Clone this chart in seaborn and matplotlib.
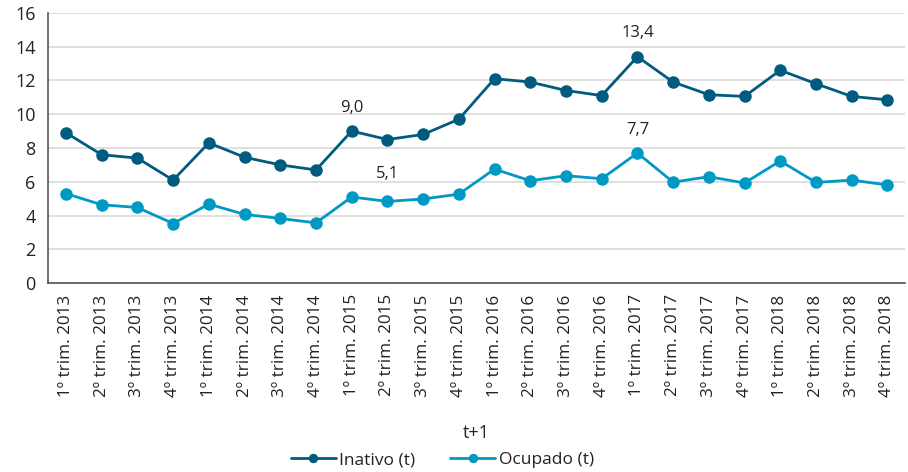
import pandas as pd
import numpy as np
import matplotlib
matplotlib.use("Agg")
import matplotlib.pyplot as plt
import seaborn as sns

trimestres = ["1º", "2º", "3º", "4º"]
anos = ["2013", "2014", "2015", "2016", "2017", "2018"]
categorias = [f"{t} trim. {a}" for a in anos for t in trimestres]

inativo = [8.9, 7.6, 7.4, 6.1, 8.3, 7.45, 7.0, 6.7, 9.0, 8.5, 8.8, 9.7,
           12.1, 11.9, 11.4, 11.1, 13.4, 11.9, 11.15, 11.05, 12.6, 11.8, 11.05, 10.85]
ocupado = [5.3, 4.64, 4.48, 3.53, 4.68, 4.07, 3.83, 3.57, 5.1, 4.84, 4.98, 5.27,
           6.75, 6.06, 6.36, 6.18, 7.7, 5.98, 6.3, 5.93, 7.23, 5.96, 6.1, 5.81]

series = ["Inativo (t)", "Ocupado (t)"]
cores = ["#005b7f", "#0099c4"]

# rótulos de valor: (série, índice, texto, deslocamento x em categorias)
rotulos = [(0, 8, "9,0", 0.0), (1, 8, "5,1", 1.0), (0, 16, "13,4", 0.0), (1, 16, "7,7", 0.0)]

df = pd.DataFrame({
    "pos": list(range(len(categorias))) * 2,
    "valor": inativo + ocupado,
    "serie": [series[0]] * len(inativo) + [series[1]] * len(ocupado),
})

sns.set_style("white")
plt.rcParams["font.family"] = ["Open Sans", "DejaVu Sans"]
plt.rcParams["text.color"] = "#222222"

fig = plt.figure(figsize=(9.08, 4.72), dpi=100)
ax = fig.add_axes([0.053, 0.4, 0.944, 0.573])

sns.lineplot(data=df, x="pos", y="valor", hue="serie", palette=cores,
             marker="o", markersize=9, markeredgewidth=0, linewidth=2,
             ax=ax, legend=True)

ax.set_ylim(0, 16)
ax.set_yticks(np.arange(0, 17, 2))
ax.set_xlim(-0.5, len(categorias) - 0.5)
ax.set_xticks(range(len(categorias)))
ax.set_xticklabels(categorias, rotation=90, fontsize=12.3)
ax.set_xticks(np.arange(-0.5, len(categorias), 1), minor=True)
ax.tick_params(axis="x", which="major", length=0, pad=8, labelcolor="#222222")
ax.tick_params(axis="x", which="minor", length=12, color="#555555", width=1)
ax.tick_params(axis="y", length=5, color="#555555", labelsize=13, pad=4,
               labelcolor="#222222")
ax.yaxis.grid(True, color="#d9d9d9", linewidth=1.2)
ax.set_axisbelow(True)
for s in ["top", "right"]:
    ax.spines[s].set_visible(False)
for s in ["left", "bottom"]:
    ax.spines[s].set_color("#555555")
    ax.spines[s].set_linewidth(1.2)

dados = [inativo, ocupado]
for si, i, txt, dx in rotulos:
    ax.annotate(txt, (i + dx, dados[si][i]), xytext=(0, 11), textcoords="offset points",
                ha="center", va="bottom", fontsize=12)

ax.set_ylabel("")
ax.set_xlabel("t+1", fontsize=13, labelpad=20)

h, l = ax.get_legend_handles_labels()
ax.legend(h, l, loc="center", bbox_to_anchor=(0.46, -0.655), ncol=2,
          frameon=False, fontsize=12.5, handlelength=2.6, columnspacing=2.0,
          handletextpad=0.2, markerscale=0.75, borderpad=0.1)

fig.savefig("out.png", dpi=100)
